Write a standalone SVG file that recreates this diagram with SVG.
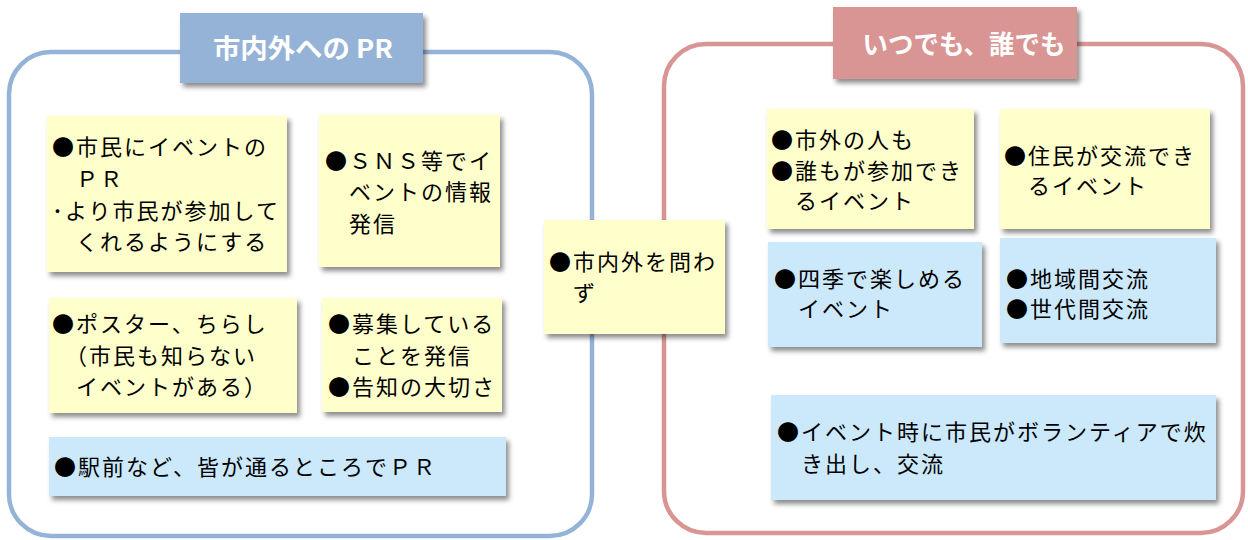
<svg xmlns="http://www.w3.org/2000/svg" width="1248" height="540" viewBox="0 0 1248 540">
<defs>
<filter id="sh" x="-10%" y="-10%" width="130%" height="140%">
<feDropShadow dx="3" dy="4" stdDeviation="2.5" flood-color="#000" flood-opacity="0.45"/>
</filter>
<style>
.frameL{fill:none;stroke:#95b3d7;stroke-width:4.5}
.frameR{fill:none;stroke:#d99594;stroke-width:4.5}
.y{fill:#ffffcc;filter:url(#sh)}
.b{fill:#cce9fc;filter:url(#sh)}
.tl{fill:#95b3d7;filter:url(#sh)}
.tr{fill:#d99594;filter:url(#sh)}
.h{font-family:"Noto Sans CJK JP",sans-serif;font-weight:bold;font-size:26px;fill:#fff;text-anchor:middle;dominant-baseline:central}
.t{font-family:"Noto Sans CJK JP",sans-serif;font-size:22px;letter-spacing:2px;fill:#000;dominant-baseline:central}
</style>
</defs>
<g id="frames">
<rect class="frameL" x="9" y="52" width="583" height="484" rx="42"/>
<rect class="frameR" x="664" y="44" width="579" height="489" rx="42"/>
</g>
<g id="title-left">
<rect class="tl" x="180" y="13" width="243" height="70"/>
<text class="h" x="303" y="46" textLength="180" lengthAdjust="spacingAndGlyphs">市内外への PR</text>
</g>
<g id="title-right">
<rect class="tr" x="833" y="7" width="244" height="72"/>
<text class="h" x="964" y="42" textLength="203" lengthAdjust="spacingAndGlyphs">いつでも、誰でも</text>
</g>
<g id="connectors"></g>
<g id="n1">
<rect class="y" x="47" y="116" width="240" height="156"/>
<text class="t"><tspan x="52" y="145">●市民にイベントの</tspan><tspan x="52" y="177">　ＰＲ</tspan><tspan x="52" y="209">･より市民が参加して</tspan><tspan x="52" y="240">　くれるようにする</tspan></text>
</g>
<g id="n2">
<rect class="y" x="319" y="115" width="181" height="152"/>
<text class="t"><tspan x="325" y="159">●ＳＮＳ等でイ</tspan><tspan x="325" y="190">　ベントの情報</tspan><tspan x="325" y="222">　発信</tspan></text>
</g>
<g id="n3">
<rect class="y" x="49" y="298" width="248" height="115"/>
<text class="t"><tspan x="52" y="322">●ポスター、ちらし</tspan><tspan x="52" y="354">　（市民も知らない</tspan><tspan x="52" y="385">　イベントがある）</tspan></text>
</g>
<g id="n4">
<rect class="y" x="322" y="298" width="180" height="114"/>
<text class="t"><tspan x="328" y="322">●募集している</tspan><tspan x="328" y="354">　ことを発信</tspan><tspan x="328" y="385">●告知の大切さ</tspan></text>
</g>
<g id="n5">
<rect class="b" x="49" y="437" width="457" height="59"/>
<text class="t" x="54" y="465">●駅前など、皆が通るところでＰＲ</text>
</g>
<g id="nc">
<rect class="y" x="544" y="220" width="181" height="114"/>
<text class="t"><tspan x="549" y="260">●市内外を問わ</tspan><tspan x="549" y="291">　ず</tspan></text>
</g>
<g id="r1">
<rect class="y" x="767" y="109" width="207" height="120"/>
<text class="t"><tspan x="771" y="138">●市外の人も</tspan><tspan x="771" y="169">●誰もが参加でき</tspan><tspan x="771" y="199">　るイベント</tspan></text>
</g>
<g id="r2">
<rect class="y" x="1000" y="109" width="210" height="120"/>
<text class="t"><tspan x="1004" y="154">●住民が交流でき</tspan><tspan x="1004" y="184">　るイベント</tspan></text>
</g>
<g id="r3">
<rect class="b" x="768" y="242" width="214" height="105"/>
<text class="t"><tspan x="774" y="277">●四季で楽しめる</tspan><tspan x="774" y="307">　イベント</tspan></text>
</g>
<g id="r4">
<rect class="b" x="1000" y="238" width="216" height="105"/>
<text class="t"><tspan x="1006" y="277">●地域間交流</tspan><tspan x="1006" y="307">●世代間交流</tspan></text>
</g>
<g id="r5">
<rect class="b" x="771" y="395" width="445" height="105"/>
<text class="t"><tspan x="777" y="430">●イベント時に市民がボランティアで炊</tspan><tspan x="777" y="462">　き出し、交流</tspan></text>
</g>
</svg>
